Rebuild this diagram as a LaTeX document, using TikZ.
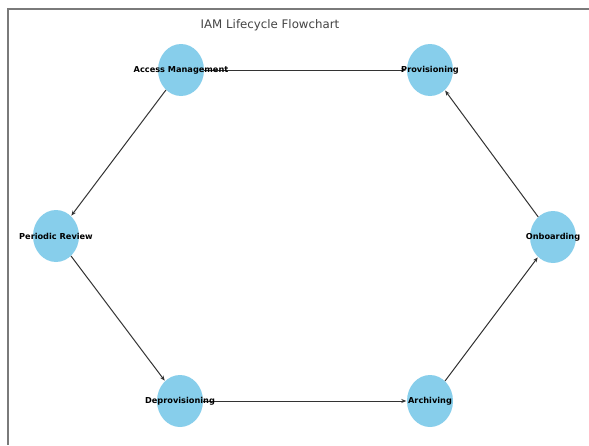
\documentclass[tikz,border=0pt]{standalone}
\usepackage{fontspec}
\setmainfont{DejaVu Sans}
\usetikzlibrary{shapes.geometric,arrows.meta}
\definecolor{sky}{HTML}{87CEEB}
\definecolor{edgec}{HTML}{333333}
\definecolor{framec}{HTML}{7A7A7A}
\definecolor{titlec}{HTML}{444444}
\begin{document}
\begin{tikzpicture}[x=1pt,y=-1pt,
  state/.style={ellipse, fill=sky, draw=none, minimum width=46pt, minimum height=52pt, inner sep=0pt},
  lbl/.style={font=\fontsize{8.2}{9}\selectfont\bfseries, text=black, inner sep=0pt},
  conn/.style={draw=edgec, line width=1pt, -{Stealth[length=5pt,width=4pt]}, shorten >=0.5pt},
  framel/.style={draw=framec, line width=1.3pt}]
\useasboundingbox[fill=white] (0,0) rectangle (589,445);
\draw[framel] (589,9) -- (8,9) -- (8,445);
\node[font=\fontsize{11.8}{13}\selectfont, text=titlec] (title) at (270,25) {IAM Lifecycle Flowchart};
% nodes
\node[state] (am) at (181,70) {};
\node[state] (prov) at (430,70) {};
\node[state] (onb) at (553,237) {};
\node[state] (arch) at (430,401) {};
\node[state] (dep) at (180,401) {};
\node[state] (pr) at (56,236) {};
% connectors
\draw[conn] (am) -- (prov);
\draw[conn] (onb) -- (prov);
\draw[conn] (arch) -- (onb);
\draw[conn] (dep) -- (arch);
\draw[conn] (pr) -- (dep);
\draw[conn] (am) -- (pr);
% labels
\node[lbl] (amL) at (am) {Access Management};
\node[lbl] (provL) at (prov) {Provisioning};
\node[lbl] (onbL) at (onb) {Onboarding};
\node[lbl] (archL) at (arch) {Archiving};
\node[lbl] (depL) at (dep) {Deprovisioning};
\node[lbl] (prL) at (pr) {Periodic Review};
\end{tikzpicture}
\end{document}
